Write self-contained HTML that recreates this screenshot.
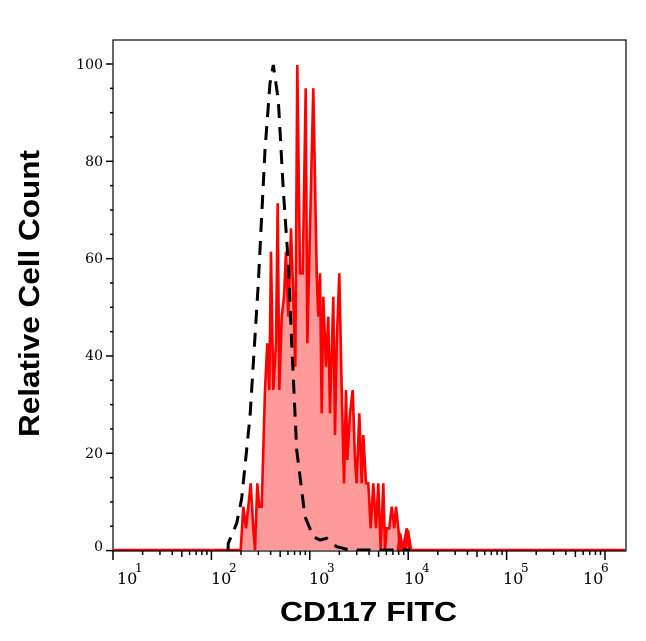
<!DOCTYPE html>
<html><head><meta charset="utf-8"><style>
body{margin:0;background:#fff;width:646px;height:641px;overflow:hidden}
svg{display:block}
text{font-family:"DejaVu Serif","Liberation Serif",serif}
</style></head><body>
<svg id="s" width="646" height="641" xmlns="http://www.w3.org/2000/svg">
<rect x="0" y="0" width="646" height="641" fill="#fff"/>
<path id="fill" fill="#ff9a9a" stroke="none"/>
<path id="red" fill="none" stroke="#ff0000" stroke-width="2.6" stroke-linejoin="miter"/>
<path id="blk" fill="none" stroke="#000" stroke-width="3" stroke-dasharray="14,9"/>
<rect x="113" y="40" width="513" height="511" fill="none" stroke="#000" stroke-width="1.2"/>
<g id="ticks" stroke="#000" stroke-width="1.5"></g>
<g font-size="14" text-anchor="end">
<text x="103" y="69">100</text><text x="103" y="166">80</text><text x="103" y="263">60</text>
<text x="103" y="360">40</text><text x="103" y="458">20</text><text x="103" y="551">0</text>
</g>
<g font-size="16">
<text x="117" y="584">10</text><text x="135" y="572" font-size="12">1</text>
<text x="211" y="584">10</text><text x="229" y="572" font-size="12">2</text>
<text x="309" y="584">10</text><text x="327" y="572" font-size="12">3</text>
<text x="404" y="584">10</text><text x="422" y="572" font-size="12">4</text>
<text x="503" y="584">10</text><text x="521" y="572" font-size="12">5</text>
<text x="583" y="584">10</text><text x="601" y="572" font-size="12">6</text>
</g>
<text x="280" y="621" textLength="177" lengthAdjust="spacingAndGlyphs" font-size="28" font-weight="bold" style="font-family:'Liberation Sans',sans-serif">CD117 FITC</text>
<text transform="translate(39,437) rotate(-90)" textLength="287" lengthAdjust="spacingAndGlyphs" font-size="29" font-weight="bold" style="font-family:'Liberation Sans',sans-serif">Relative Cell Count</text>
</svg>
<script>
var r=[[92,1500],[100,1370],[108,1435],[115,1370],[122,1300],[130,1435],[135,1500],[142,1300],[148,1370],[155,1370],[165,1020],[172,880],[178,1020],[183,605],[190,1020],[198,880],[203,460],[208,1020],[215,800],[222,740],[228,605],[235,800],[243,535],[250,740],[256,950],[262,45],[270,670],[278,670],[287,115],[292,880],[300,535],[310,115],[320,670],[325,800],[330,670],[335,1090],[340,740],[348,950],[355,800],[360,1090],[370,740],[375,1155],[380,880],[388,670],[395,1020],[402,1300],[408,1020],[412,1230],[420,1090],[428,1020],[435,1230],[440,1300],[448,1090],[455,1300],[460,1155],[468,1300],[475,1300],[482,1435],[490,1300],[498,1435],[505,1300],[512,1500],[520,1300],[525,1500],[530,1435],[538,1435],[545,1370],[553,1435],[558,1370],[565,1435],[570,1500],[578,1500],[590,1435],[598,1500]];
var pts=r.map(function(p){return [210+p[0]/3,50+p[1]/3];});
var d="M114,550 L240,550 ";pts.forEach(function(p){d+="L"+p[0].toFixed(1)+","+p[1].toFixed(1)+" ";});
d+="L398,550 L400,533 L403,550 L405,550 L408,530 L411,550 L625,550";
document.getElementById("red").setAttribute("d",d);
document.getElementById("fill").setAttribute("d",d+" Z");
var b=[[55,1480],[80,1420],[95,1345],[120,1100],[145,700],[165,300],[180,100],[190,45],[205,150],[220,420],[235,640],[245,880],[260,1200],[285,1400],[310,1460],[330,1470],[350,1465],[380,1490],[420,1500],[600,1500]];
var bd="M228,551 ";b.forEach(function(p){bd+="L"+(210+p[0]/3).toFixed(1)+","+(50+p[1]/3).toFixed(1)+" ";});
document.getElementById("blk").setAttribute("d",bd);
var t="";
for(var v=0;v<=100;v+=5){var y=550.6-v*4.866;var L=(v%20==0)?7:3;t+='<line x1="'+(113-L)+'" y1="'+y+'" x2="113" y2="'+y+'"/>';}
for(var dec=1;dec<=6;dec++){var x0=113+(dec-1)*98.4;t+='<line x1="'+x0+'" y1="551" x2="'+x0+'" y2="560"/>';
if(dec<6)for(var k=2;k<10;k++){var x=x0+Math.log10(k)*98.4;t+='<line x1="'+x+'" y1="551" x2="'+x+'" y2="'+(k==5?557:555)+'"/>';}}
document.getElementById("ticks").innerHTML=t;
</script>
</body></html>
